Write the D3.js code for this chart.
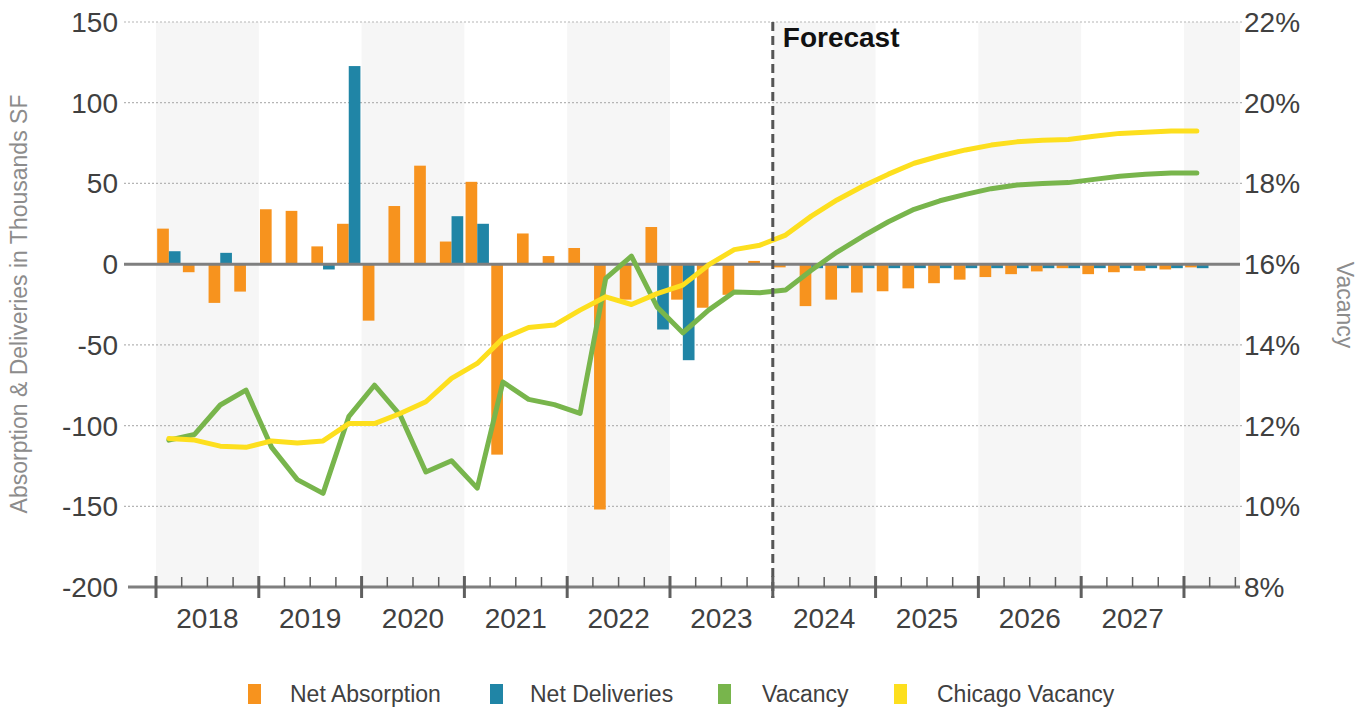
<!DOCTYPE html>
<html>
<head>
<meta charset="utf-8">
<script src="https://cdn.jsdelivr.net/npm/d3@7"></script>
<style>
  html, body { margin: 0; padding: 0; background: #fff; }
  svg { display: block; font-family: "Liberation Sans", Arial, sans-serif; }
</style>
</head>
<body>
<svg id="chart" width="1369" height="711"></svg>
<script>
// Quarterly series, 2018 Q1 through 2028 Q1
const years = ["2018", "2019", "2020", "2021", "2022", "2023", "2024", "2025", "2026", "2027"];
const quarters = [];
for (let y = 2018; y <= 2028; y++) {
  for (let q = 1; q <= 4; q++) {
    if (y === 2028 && q > 1) break;
    quarters.push(y + " Q" + q);
  }
}

// Thousands of SF
const netAbsorption = [
  22, -5, -24, -17,
  34, 33, 11, 25,
  -35, 36, 61, 14,
  51, -118, 19, 5,
  10, -152, -22, 23,
  -22, -27, -19, 2,
  -2, -26, -22, -17.6,
  -16.8, -15, -11.8, -9.6,
  -8, -6.2, -4.5, -2.5,
  -6.2, -5, -4.1, -3.3,
  -2
];
const netDeliveries = [
  8, 0, 7, 0,
  0, 0, -3.3, 122.7,
  0, 0, 0, 29.7,
  25, 0, 0, 0,
  0, 0, 0, -40.5,
  -59.5, 0, 0, 0,
  0, -2.5, -2.5, -2.5,
  -2.5, -2.5, -2.5, -2.5,
  -2.5, -2.5, -2.5, -2.5,
  -2.5, -2.5, -2.5, -2.5,
  -2.5
];
// Percent
const vacancy = [
  11.64, 11.78, 12.51, 12.88,
  11.46, 10.66, 10.32, 12.22,
  13.0, 12.26, 10.85, 11.13,
  10.45, 13.08, 12.65, 12.52,
  12.3, 15.65, 16.2, 14.94,
  14.3, 14.86, 15.31, 15.29,
  15.36, 15.85, 16.3, 16.69,
  17.05, 17.36, 17.57, 17.73,
  17.87, 17.96, 18.0, 18.02,
  18.1, 18.18, 18.23, 18.26,
  18.26
];
const chicagoVacancy = [
  11.68, 11.64, 11.49, 11.46,
  11.62, 11.57, 11.62, 12.05,
  12.05, 12.3, 12.59, 13.17,
  13.54, 14.16, 14.43, 14.49,
  14.86, 15.19, 15.0, 15.27,
  15.48, 15.98, 16.36, 16.47,
  16.72, 17.19, 17.59, 17.93,
  18.23, 18.5, 18.68, 18.83,
  18.95, 19.03, 19.07, 19.09,
  19.17, 19.24, 19.27, 19.3,
  19.3
];
const leftTicks = [150, 100, 50, 0, -50, -100, -150, -200];
const rightTicks = [22, 20, 18, 16, 14, 12, 10, 8];
const forecastStart = "2024 Q1";

const colors = {
  absorption: "#f7931e",
  deliveries: "#2085a6",
  vacancy: "#78b54c",
  chicago: "#fddf1e"
};

const svg = d3.select("#chart");
const plotTop = 22, plotBottom = 587;
const xStart = 156, xEnd = 1240;

// x: continuous quarter index (0 = start of 2018 Q1)
const xq = d3.scaleLinear().domain([0, 42.18]).range([xStart, xEnd]);
const qw = xq(1) - xq(0);
const yL = d3.scaleLinear().domain([-200, 150]).range([plotBottom, plotTop]);
const yR = d3.scaleLinear().domain([8, 22]).range([plotBottom, plotTop]);
const inner = d3.scaleBand().domain(["abs", "del"]).range([0, qw]).paddingOuter(0.1).paddingInner(0);

// alternating year bands
const bandYears = [0, 2, 4, 6, 8, 10];
svg.append("g").selectAll("rect").data(bandYears).join("rect")
  .attr("x", d => xq(d * 4))
  .attr("width", d => Math.min(xq(d * 4 + 4), xEnd) - xq(d * 4))
  .attr("y", plotTop)
  .attr("height", plotBottom - plotTop)
  .attr("fill", "#f6f6f6");

// dotted grid lines
svg.append("g").selectAll("line").data(leftTicks.filter(d => d !== 0 && d !== -200)).join("line")
  .attr("x1", 124).attr("x2", 1242)
  .attr("y1", d => yL(d)).attr("y2", d => yL(d))
  .attr("stroke", "#b5b5b5").attr("stroke-width", 1.2)
  .attr("stroke-dasharray", "2,2");

// bars
const bars = svg.append("g");
bars.selectAll(".abs").data(netAbsorption).join("rect")
  .attr("class", "abs")
  .attr("x", (d, i) => xq(i) + inner("abs"))
  .attr("width", inner.bandwidth())
  .attr("y", d => yL(Math.max(0, d)))
  .attr("height", d => Math.abs(yL(d) - yL(0)))
  .attr("fill", colors.absorption);
bars.selectAll(".del").data(netDeliveries).join("rect")
  .attr("class", "del")
  .attr("x", (d, i) => xq(i) + inner("del"))
  .attr("width", inner.bandwidth())
  .attr("y", d => yL(Math.max(0, d)))
  .attr("height", d => Math.abs(yL(d) - yL(0)))
  .attr("fill", colors.deliveries);

// zero line
svg.append("line")
  .attr("x1", 124).attr("x2", 1240)
  .attr("y1", yL(0)).attr("y2", yL(0))
  .attr("stroke", "#7f7f7f").attr("stroke-width", 3);

// vacancy lines
const line = d3.line().x((d, i) => xq(i + 0.5)).y(d => yR(d));
svg.append("path").datum(vacancy)
  .attr("d", line).attr("fill", "none")
  .attr("stroke", colors.vacancy).attr("stroke-width", 5)
  .attr("stroke-linejoin", "round").attr("stroke-linecap", "round");
svg.append("path").datum(chicagoVacancy)
  .attr("d", line).attr("fill", "none")
  .attr("stroke", colors.chicago).attr("stroke-width", 5)
  .attr("stroke-linejoin", "round").attr("stroke-linecap", "round");

// forecast divider
const fx = xq(quarters.indexOf(forecastStart));
svg.append("line")
  .attr("x1", fx).attr("x2", fx)
  .attr("y1", plotTop).attr("y2", 598)
  .attr("stroke", "#555").attr("stroke-width", 3)
  .attr("stroke-dasharray", "9,5");
svg.append("text")
  .attr("x", fx + 10).attr("y", 47)
  .attr("font-size", 28).attr("font-weight", "bold").attr("fill", "#111")
  .text("Forecast");

// bottom axis
const axisG = svg.append("g");
axisG.append("line")
  .attr("x1", 128).attr("x2", 1240)
  .attr("y1", plotBottom).attr("y2", plotBottom)
  .attr("stroke", "#7f7f7f").attr("stroke-width", 3);
const qTicks = d3.range(0, 43);
axisG.selectAll(".qt").data(qTicks).join("line")
  .attr("class", "qt")
  .attr("x1", d => xq(d)).attr("x2", d => xq(d))
  .attr("y1", d => d % 4 === 0 ? 576 : 577)
  .attr("y2", d => d % 4 === 0 ? 598 : 587)
  .attr("stroke", "#5f5f5f")
  .attr("stroke-width", d => d % 4 === 0 ? 3 : 1.5);
axisG.selectAll(".yl").data(years).join("text")
  .attr("class", "yl")
  .attr("x", (d, i) => xq(i * 4 + 2))
  .attr("y", 628)
  .attr("text-anchor", "middle")
  .attr("font-size", 28).attr("fill", "#404040")
  .text(d => d);

// left tick labels
svg.append("g").selectAll("text").data(leftTicks).join("text")
  .attr("x", 118).attr("y", d => yL(d) + 10)
  .attr("text-anchor", "end")
  .attr("font-size", 28).attr("fill", "#404040")
  .text(d => d);

// right tick labels
svg.append("g").selectAll("text").data(rightTicks).join("text")
  .attr("x", 1244).attr("y", d => yR(d) + 10)
  .attr("font-size", 28).attr("fill", "#404040")
  .text(d => d + "%");

// axis titles
svg.append("text")
  .attr("transform", "translate(27,304) rotate(-90)")
  .attr("text-anchor", "middle")
  .attr("font-size", 23).attr("fill", "#8c8c8c")
  .text("Absorption & Deliveries in Thousands SF");
svg.append("text")
  .attr("transform", "translate(1337,305) rotate(90)")
  .attr("text-anchor", "middle")
  .attr("font-size", 23).attr("fill", "#8c8c8c")
  .text("Vacancy");

// legend
const legendItems = [
  { label: "Net Absorption", color: colors.absorption, x: 248, tx: 42 },
  { label: "Net Deliveries", color: colors.deliveries, x: 490, tx: 40 },
  { label: "Vacancy", color: colors.vacancy, x: 718, tx: 44 },
  { label: "Chicago Vacancy", color: colors.chicago, x: 894, tx: 43 }
];
const lg = svg.append("g").selectAll("g").data(legendItems).join("g")
  .attr("transform", d => `translate(${d.x},684)`);
lg.append("rect").attr("width", 13).attr("height", 20).attr("fill", d => d.color);
lg.append("text")
  .attr("x", d => d.tx)
  .attr("y", 18)
  .attr("font-size", 23).attr("fill", "#404040")
  .text(d => d.label);
</script>
</body>
</html>
